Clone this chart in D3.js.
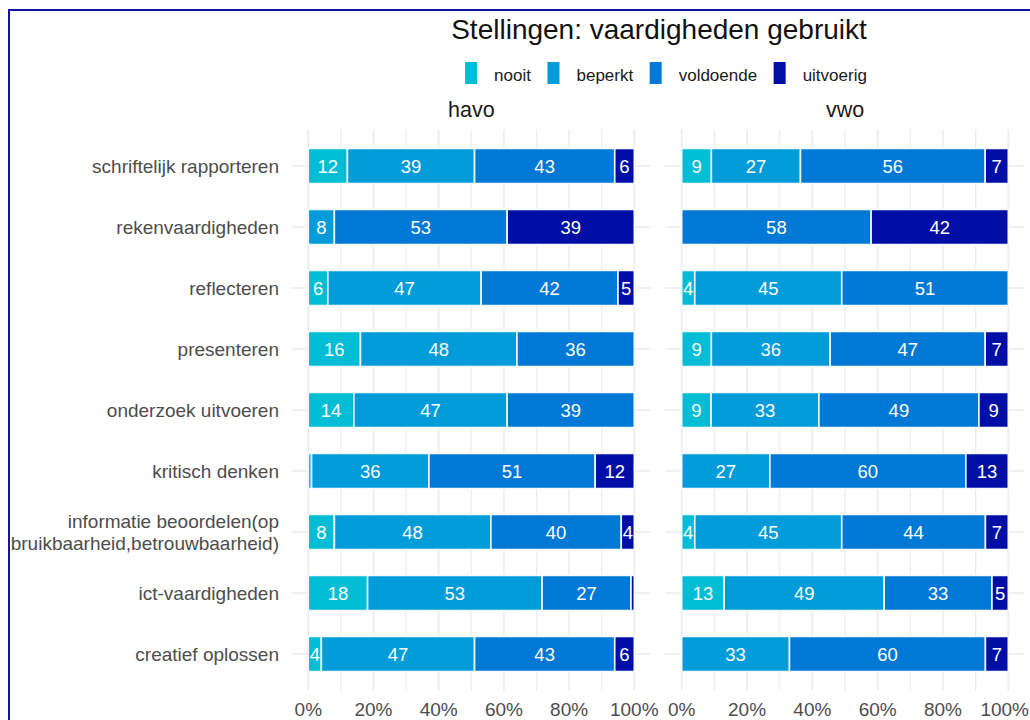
<!DOCTYPE html>
<html>
<head>
<meta charset="utf-8">
<script src="https://cdn.jsdelivr.net/npm/d3@7"></script>
<style>
  html, body { margin: 0; padding: 0; background: #fff; }
  svg { display: block; font-family: "Liberation Sans", Arial, sans-serif; }
</style>
</head>
<body>
<svg id="chart" width="1030" height="720"></svg>
<script>
// ---- data ----
const categories = [
  "schriftelijk rapporteren",
  "rekenvaardigheden",
  "reflecteren",
  "presenteren",
  "onderzoek uitvoeren",
  "kritisch denken",
  "informatie beoordelen(op\nbruikbaarheid,betrouwbaarheid)",
  "ict-vaardigheden",
  "creatief oplossen"
];
const levels = ["nooit", "beperkt", "voldoende", "uitvoerig"];
const levelColors = ["#00bdd6", "#009bd9", "#0078d6", "#000ea6"];
const facets = ["havo", "vwo"];

// values per category: [nooit, beperkt, voldoende, uitvoerig]
const havoValues = [
  [12, 39, 43, 6],
  [0, 8, 53, 39],
  [6, 47, 42, 5],
  [16, 48, 36, 0],
  [14, 47, 39, 0],
  [1, 36, 51, 12],
  [8, 48, 40, 4],
  [18, 53, 27, 1],
  [4, 47, 43, 6]
];
const vwoValues = [
  [9, 27, 56, 7],
  [0, 0, 58, 42],
  [4, 45, 51, 0],
  [9, 36, 47, 7],
  [9, 33, 49, 9],
  [0, 27, 60, 13],
  [4, 45, 44, 7],
  [13, 49, 33, 5],
  [0, 33, 60, 7]
];
const xTicks = [0, 20, 40, 60, 80, 100];
const xGrid = [0, 10, 20, 30, 40, 50, 60, 70, 80, 90, 100];
const titleText = "Stellingen: vaardigheden gebruikt";

// ---- layout ----
const svg = d3.select("#chart");
const W = 1030;
const panelTop = 129.4, panelBottom = 690.6;
const panels = [
  { name: facets[0], values: havoValues, x0: 308.3, x1: 634.3 },
  { name: facets[1], values: vwoValues,  x0: 681.7, x1: 1008.3 }
];

// outer border
svg.append("rect")
  .attr("x", 9).attr("y", 10)
  .attr("width", 1100).attr("height", 800)
  .attr("fill", "none").attr("stroke", "#1414a0").attr("stroke-width", 2);

const y = d3.scalePoint().domain(categories).range([panelTop, panelBottom]).padding(0.6);
const barH = y.step() * 0.575;

// title
svg.append("text")
  .attr("x", 659).attr("y", 39)
  .attr("text-anchor", "middle")
  .attr("font-size", 28).attr("fill", "#111")
  .text(titleText);

// legend
const legend = svg.append("g");
let lx = 0;
levels.forEach((lv, i) => {
  const g = legend.append("g");
  g.append("rect").attr("x", lx).attr("y", 62).attr("width", 12).attr("height", 22)
    .attr("fill", levelColors[i]);
  const t = g.append("text").attr("x", lx + 29).attr("y", 80.5)
    .attr("font-size", 17).attr("fill", "#1a1a1a").text(lv);
  const w = t.node().getComputedTextLength();
  lx += 29 + w + 16.5;
});
const legendW = lx - 16.5;
legend.attr("transform", `translate(${666 - legendW / 2},0)`);

// y-axis labels
categories.forEach(c => {
  const lines = c.split("\n");
  const cy = y(c);
  const lh = 22;
  lines.forEach((ln, j) => {
    svg.append("text")
      .attr("x", 279)
      .attr("y", cy + (j - (lines.length - 1) / 2) * lh)
      .attr("dy", "0.35em")
      .attr("text-anchor", "end")
      .attr("font-size", 19).attr("fill", "#4d4d4d")
      .text(ln);
  });
});

panels.forEach(p => {
  const x = d3.scaleLinear().domain([0, 100]).range([p.x0, p.x1]);
  const ext = (p.x1 - p.x0) * 0.05;
  const g = svg.append("g");

  // strip label
  svg.append("text")
    .attr("x", (p.x0 + p.x1) / 2).attr("y", 117)
    .attr("text-anchor", "middle")
    .attr("font-size", 21.5).attr("fill", "#1a1a1a")
    .text(p.name);

  // vertical grid
  g.selectAll("line.vg").data(xGrid).join("line")
    .attr("x1", d => x(d)).attr("x2", d => x(d))
    .attr("y1", panelTop).attr("y2", panelBottom)
    .attr("stroke", "#ebebeb").attr("stroke-width", d => d % 20 === 0 ? 1.6 : 1.2);
  // horizontal grid
  g.selectAll("line.hg").data(categories).join("line")
    .attr("x1", p.x0 - ext).attr("x2", p.x1 + ext)
    .attr("y1", d => y(d)).attr("y2", d => y(d))
    .attr("stroke", "#ebebeb").attr("stroke-width", 1.6);

  // stacked segments
  const segs = [];
  categories.forEach((c, i) => {
    const vals = p.values[i];
    const total = d3.sum(vals);
    let acc = 0;
    vals.forEach((v, k) => {
      if (v > 0) {
        segs.push({ c, k, v, s: acc / total * 100, e: (acc + v) / total * 100 });
      }
      acc += v;
    });
  });
  g.selectAll("rect.seg").data(segs).join("rect")
    .attr("x", d => x(d.s)).attr("width", d => x(d.e) - x(d.s))
    .attr("y", d => y(d.c) - barH / 2).attr("height", barH)
    .attr("fill", d => levelColors[d.k])
    .attr("stroke", "#f4f9ff").attr("stroke-width", 1.6);
  g.selectAll("text.lab").data(segs.filter(d => d.v >= 2)).join("text")
    .attr("x", d => x((d.s + d.e) / 2))
    .attr("y", d => y(d.c))
    .attr("dy", "0.36em")
    .attr("text-anchor", "middle")
    .attr("font-size", 18.5).attr("fill", "#ffffff")
    .text(d => d.v);

  // x tick labels (kept inside the canvas)
  g.selectAll("text.xt").data(xTicks).join("text")
    .attr("y", 716)
    .attr("text-anchor", "middle")
    .attr("font-size", 19).attr("fill", "#4d4d4d")
    .text(d => d + "%")
    .each(function(d) {
      const w = this.getComputedTextLength();
      const cx = Math.min(x(d), W - 1 - w / 2);
      d3.select(this).attr("x", cx);
    });
});
</script>
</body>
</html>
